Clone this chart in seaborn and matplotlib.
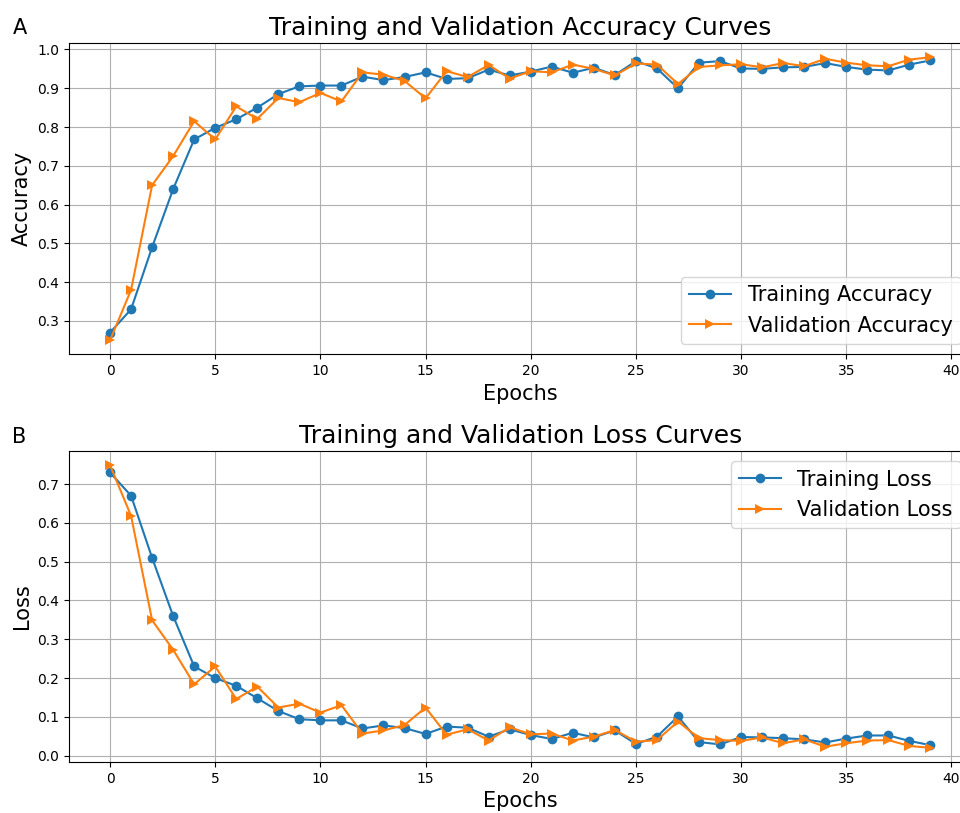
import matplotlib
matplotlib.use("Agg")
import matplotlib.pyplot as plt
import seaborn as sns
import numpy as np
import pandas as pd

epochs = list(range(40))

train_acc = [0.270, 0.330, 0.490, 0.640, 0.768, 0.798, 0.820, 0.850, 0.885, 0.905,
             0.907, 0.907, 0.930, 0.921, 0.929, 0.941, 0.924, 0.926, 0.948, 0.933,
             0.943, 0.956, 0.940, 0.953, 0.934, 0.970, 0.951, 0.900, 0.966, 0.970,
             0.951, 0.950, 0.954, 0.955, 0.965, 0.955, 0.948, 0.946, 0.961, 0.972]
val_acc = [0.250, 0.380, 0.650, 0.725, 0.815, 0.768, 0.853, 0.821, 0.875, 0.864,
           0.888, 0.866, 0.941, 0.935, 0.919, 0.874, 0.944, 0.929, 0.960, 0.925,
           0.944, 0.941, 0.961, 0.950, 0.933, 0.964, 0.961, 0.911, 0.955, 0.959,
           0.962, 0.954, 0.965, 0.957, 0.976, 0.966, 0.959, 0.957, 0.974, 0.980]

train_loss = [0.730, 0.670, 0.510, 0.360, 0.230, 0.200, 0.180, 0.148, 0.115, 0.094,
              0.091, 0.091, 0.070, 0.078, 0.071, 0.056, 0.075, 0.072, 0.049, 0.068,
              0.053, 0.043, 0.059, 0.047, 0.065, 0.030, 0.049, 0.101, 0.035, 0.029,
              0.048, 0.047, 0.045, 0.042, 0.034, 0.044, 0.052, 0.052, 0.038, 0.027]
val_loss = [0.749, 0.618, 0.349, 0.273, 0.184, 0.230, 0.146, 0.178, 0.124, 0.134,
            0.111, 0.130, 0.057, 0.065, 0.079, 0.124, 0.054, 0.068, 0.039, 0.073,
            0.055, 0.057, 0.039, 0.049, 0.066, 0.036, 0.040, 0.088, 0.045, 0.040,
            0.038, 0.047, 0.032, 0.042, 0.023, 0.032, 0.039, 0.040, 0.025, 0.020]

blue = "#1f77b4"
orange = "#ff7f0e"

fig = plt.figure(figsize=(9.6, 8.13), dpi=100)
ax1 = fig.add_axes([0.0719, 0.564, 0.940, 0.383])
ax2 = fig.add_axes([0.0719, 0.0627, 0.940, 0.3826])

def panel(ax, ytr, yva, ltr, lva, title, ylabel, legloc):
    sns.lineplot(x=epochs, y=ytr, ax=ax, color=blue, marker="o", markersize=7,
                 markeredgewidth=0, linewidth=1.5, label=ltr)
    sns.lineplot(x=epochs, y=yva, ax=ax, color=orange, marker=">", markersize=7,
                 markeredgewidth=0, linewidth=1.5, label=lva)
    ax.set_title(title, fontsize=18)
    ax.set_xlabel("Epochs", fontsize=15)
    ax.set_ylabel(ylabel, fontsize=15)
    ax.tick_params(labelsize=10)
    ax.grid(True, color="#b0b0b0", linewidth=0.8)
    ax.legend(loc=legloc, fontsize=15)

panel(ax1, train_acc, val_acc, "Training Accuracy", "Validation Accuracy",
      "Training and Validation Accuracy Curves", "Accuracy", "lower right")
panel(ax2, train_loss, val_loss, "Training Loss", "Validation Loss",
      "Training and Validation Loss Curves", "Loss", "upper right")

fig.text(0.013, 0.966, "A", fontsize=15, ha="left", va="center")
fig.text(0.013, 0.462, "B", fontsize=15, ha="left", va="center")

fig.savefig("out.png", dpi=100)
